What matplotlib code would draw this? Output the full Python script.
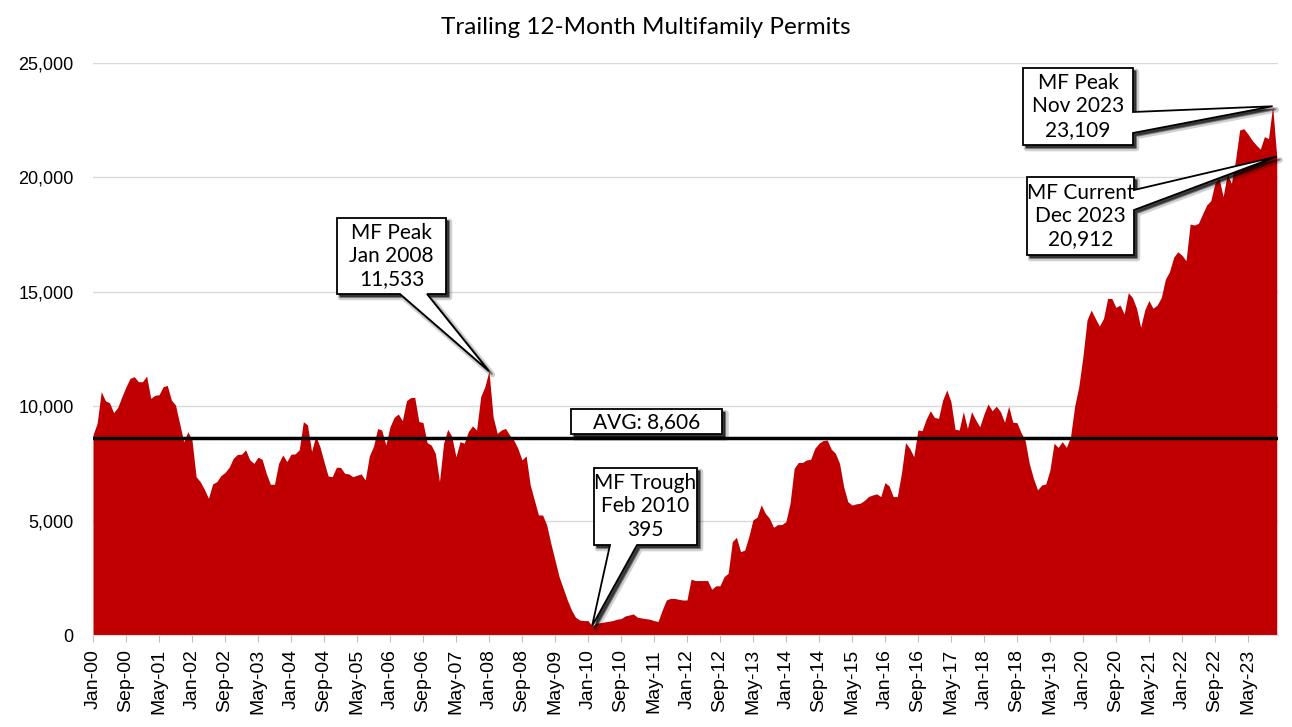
import matplotlib
matplotlib.use('Agg')
import matplotlib.pyplot as plt
from matplotlib.patches import Polygon
from matplotlib.transforms import IdentityTransform
from matplotlib.ticker import FuncFormatter, MultipleLocator

# trailing 12-month multifamily permits, monthly Jan 2000 .. Dec 2023
permits = [
    8750, 9250, 10635, 10240, 10150, 9717, 9950, 10415, 10852, 11219, 11290, 11070,
    11070, 11320, 10343, 10475, 10500, 10850, 10910, 10270, 10050, 9250, 8450, 8886,
    8520, 6920, 6700, 6367, 5974, 6600, 6700, 6965, 7100, 7330, 7720, 7890,
    7900, 8095, 7660, 7500, 7770, 7680, 7070, 6590, 6590, 7500, 7870, 7580,
    7900, 7915, 8095, 9323, 9180, 8020, 8700, 8240, 7580, 6950, 6920, 7330,
    7330, 7070, 7040, 6920, 6980, 7040, 6775, 7830, 8240, 9020, 8960, 8300,
    9100, 9510, 9660, 9370, 10240, 10375, 10390, 9330, 9285, 8410, 8300, 7940,
    6700, 8380, 8990, 8670, 7790, 8450, 8380, 8890, 9140, 8960, 10420, 10850,
    11533, 9540, 8810, 8960, 9030, 8740, 8520, 8160, 7650, 7830, 6560, 5900,
    5245, 5245, 4807, 4005, 3278, 2550, 2040, 1530, 1093, 773, 655, 630,
    630, 395, 510, 540, 570, 600, 630, 690, 715, 830, 874, 920,
    775, 745, 715, 690, 630, 590, 1093, 1530, 1600, 1600, 1560, 1530,
    1530, 2440, 2380, 2380, 2380, 2380, 2000, 2150, 2150, 2550, 2700, 4080,
    4270, 3640, 3710, 4300, 5030, 5150, 5690, 5320, 5100, 4710, 4825, 4825,
    4960, 5760, 7285, 7540, 7540, 7650, 7680, 8160, 8380, 8500, 8520, 8120,
    7940, 7500, 6480, 5830, 5680, 5730, 5760, 5880, 6050, 6120, 6170, 6050,
    6660, 6520, 6050, 6050, 7070, 8410, 8160, 7790, 8960, 8930, 9430, 9800,
    9510, 9470, 10270, 10710, 10200, 8990, 8960, 9760, 9030, 9760, 9400, 9100,
    9650, 10100, 9800, 10000, 9760, 9300, 10000, 9300, 9280, 8850, 8500, 7500,
    6850, 6340, 6555, 6600, 7210, 8380, 8200, 8450, 8200, 8670, 10000, 10850,
    12160, 13770, 14200, 13840, 13500, 13840, 14710, 14710, 14320, 14420, 14030, 14960,
    14750, 14280, 13450, 14210, 14620, 14280, 14420, 14750, 15550, 15880, 16510, 16750,
    16600, 16360, 17960, 17920, 17990, 18400, 18790, 18980, 19740, 19960, 19160, 20150,
    19740, 20760, 22070, 22130, 21900, 21630, 21420, 21230, 21780, 21700, 23109, 20912,
]

tick_labels = [
    'Jan-00', 'Sep-00', 'May-01', 'Jan-02', 'Sep-02', 'May-03', 'Jan-04', 'Sep-04', 'May-05',
    'Jan-06', 'Sep-06', 'May-07', 'Jan-08', 'Sep-08', 'May-09', 'Jan-10', 'Sep-10', 'May-11',
    'Jan-12', 'Sep-12', 'May-13', 'Jan-14', 'Sep-14', 'May-15', 'Jan-16', 'Sep-16', 'May-17',
    'Jan-18', 'Sep-18', 'May-19', 'Jan-20', 'Sep-20', 'May-21', 'Jan-22', 'Sep-22', 'May-23',
]

avg_value = 8606

# (month index, label) for callouts
callouts = [
    (96, 'MF Peak\nJan 2008\n11,533'),
    (121, 'MF Trough\nFeb 2010\n395'),
    (286, 'MF Peak\nNov 2023\n23,109'),
    (287, 'MF Current\nDec 2023\n20,912'),
]

RED = '#C00000'
ANNO_FONT = ['Lato', 'DejaVu Sans']
TICK_FONT = ['Liberation Sans', 'DejaVu Sans']

W, H = 1292, 727
fig = plt.figure(figsize=(W / 100, H / 100), dpi=100)
ax = fig.add_axes([93 / W, 1 - 635 / H, (1278 - 93) / W, (635 - 63) / H])

months = list(range(len(permits)))
ax.fill_between(months, permits, 0, color=RED, lw=0, zorder=2)

ax.set_xlim(0, 287.3)
ax.set_ylim(0, 25000)
ax.yaxis.set_major_locator(MultipleLocator(5000))
ax.yaxis.set_major_formatter(FuncFormatter(lambda v, p: f'{int(v):,}'))
ax.grid(axis='y', color='#D9D9D9', lw=1, zorder=0)
ax.set_axisbelow(True)

ax.set_xticks(range(0, len(permits), 8))
ax.set_xticklabels(tick_labels, rotation=90)
for lab in ax.get_xticklabels():
    lab.set_family(TICK_FONT)
    lab.set_fontsize(14)
for lab in ax.get_yticklabels():
    lab.set_family(TICK_FONT)
    lab.set_fontsize(13)
ax.tick_params(axis='x', length=5, color='#BFBFBF', pad=5)
ax.tick_params(axis='y', length=0, pad=14)
for s in ['top', 'right', 'left']:
    ax.spines[s].set_visible(False)
ax.spines['bottom'].set_color('#D9D9D9')

ax.axhline(avg_value, color='black', lw=2.5, zorder=3)


def to_disp(pts):
    # pixel coords measured from the top-left -> display coords
    return [(x, H - y) for x, y in pts]


def draw_shape(pts):
    ident = IdentityTransform()
    for off, a, lw in [(3.5, 0.18, 4), (3, 0.35, 1.5), (2.5, 0.5, 0)]:
        sh = Polygon([(x + off, y - off) for x, y in pts], closed=True, fc='black',
                     ec='black', lw=lw, alpha=a, transform=ident, zorder=5, joinstyle='round')
        fig.add_artist(sh)
    fig.add_artist(Polygon(pts, closed=True, fc='white', ec='black', lw=1.3,
                           transform=ident, zorder=6))


def callout(box, side, base, tip, text):
    # everything here in pixels from the top-left
    x0, y0, x1, y1 = box
    tx, ty = tip
    b1, b2 = base
    if side == 'bottom':
        pts = [(x0, y0), (x1, y0), (x1, y1), (b2, y1), (tx, ty), (b1, y1), (x0, y1)]
    else:
        pts = [(x0, y0), (x1, y0), (x1, b1), (tx, ty), (x1, b2), (x1, y1), (x0, y1)]
    draw_shape(to_disp(pts))
    fig.text((x0 + x1) / 2 / W, 1 - (y0 + y1) / 2 / H, text, ha='center', va='center',
             fontsize=15, family=ANNO_FONT, linespacing=1.2, zorder=7)


# box geometry in pixels (left, top, right, bottom), wedge side and base span
layout = [
    ((337, 218, 446, 294), 'bottom', (400, 427)),
    ((594, 468, 697, 545), 'bottom', (610, 637)),
    ((1023, 68, 1133, 145), 'right', (112, 133)),
    ((1027, 177, 1134, 255), 'right', (190, 210)),
]
for (m, text), (box, side, base) in zip(callouts, layout):
    px, py = ax.transData.transform((m, permits[m]))
    callout(box, side, base, (px, H - py), text)

# average label
draw_shape(to_disp([(571, 409), (722, 409), (722, 434), (571, 434)]))
fig.text(646.5 / W, 1 - 422 / H, f'AVG: {avg_value:,}', ha='center', va='center',
         fontsize=15, family=ANNO_FONT, zorder=7)

fig.text(646 / W, 1 - 27 / H, 'Trailing 12-Month Multifamily Permits', ha='center', va='center',
         fontsize=17.5, family=ANNO_FONT)

fig.savefig('out.png', dpi=100)
